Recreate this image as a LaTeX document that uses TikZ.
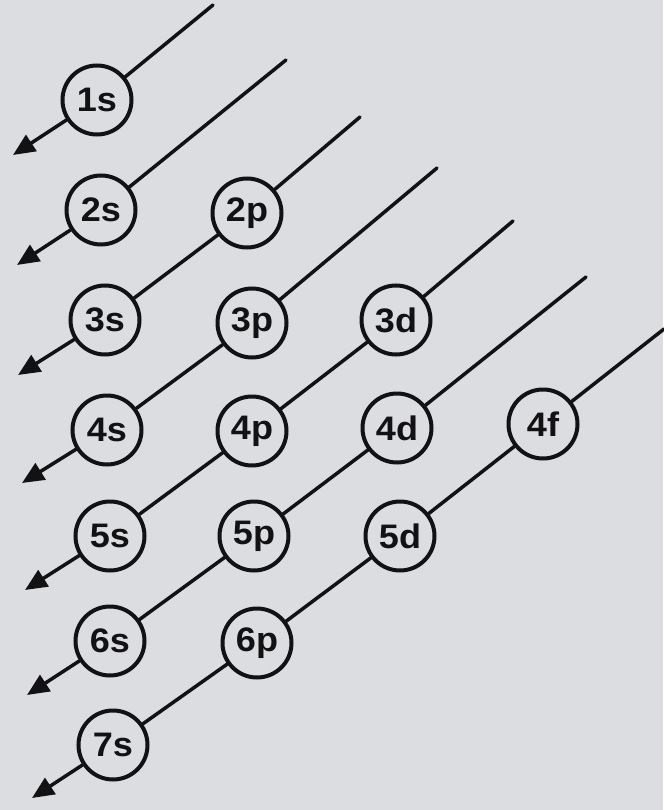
\documentclass[tikz,border=0pt]{standalone}
\usepackage{fontspec}
\setmainfont{Liberation Sans}
\newfontfamily\orbfont{Liberation Sans}[FakeStretch=1.06]
\usetikzlibrary{arrows.meta}
\definecolor{paper}{RGB}{219,221,224}
\definecolor{ink}{RGB}{18,18,20}
\begin{document}
\begin{tikzpicture}[x=1pt,y=-1pt,
  orb/.style={circle,draw=ink,fill=paper,line width=4pt,minimum size=69pt,inner sep=0pt,
              font=\orbfont\bfseries\fontsize{34}{34}\selectfont,text=ink},
  diag/.style={draw=ink,line width=3.5pt,line cap=round},
  arr/.style={diag,-{Triangle[length=22pt,width=19pt]}}]
\fill[paper] (0,0) rectangle (663,810);
\useasboundingbox (0,0) rectangle (663,810);
% orbitals
\node[orb] (1s) at (97,100) {1s};
\node[orb] (2s) at (101,210) {2s};
\node[orb] (2p) at (247,213) {2p};
\node[orb] (3s) at (105,320) {3s};
\node[orb] (3p) at (252,323) {3p};
\node[orb] (3d) at (396,320) {3d};
\node[orb] (4s) at (107,430) {4s};
\node[orb] (4p) at (252,431) {4p};
\node[orb] (4d) at (397,428) {4d};
\node[orb] (4f) at (543,424) {4f};
\node[orb] (5s) at (110,536) {5s};
\node[orb] (5p) at (254,536) {5p};
\node[orb] (5d) at (400,536) {5d};
\node[orb] (6s) at (110,641) {6s};
\node[orb] (6p) at (257,643) {6p};
\node[orb] (7s) at (113,745) {7s};
% free ends
\coordinate (t1) at (213,5);   \coordinate (e1) at (13,155);
\coordinate (t2) at (286,60);  \coordinate (e2) at (17,265);
\coordinate (t3) at (360,117); \coordinate (e3) at (18,375);
\coordinate (t4) at (437,168); \coordinate (e4) at (22,483);
\coordinate (t5) at (513,221); \coordinate (e5) at (25,590);
\coordinate (t6) at (586,277); \coordinate (e6) at (27,695);
\coordinate (t7) at (664,329); \coordinate (e7) at (32,798);
% diagonals
\draw[diag] (t1) -- (1s); \draw[arr] (1s) -- (e1);
\draw[diag] (t2) -- (2s); \draw[arr] (2s) -- (e2);
\draw[diag] (t3) -- (2p) (2p) -- (3s); \draw[arr] (3s) -- (e3);
\draw[diag] (t4) -- (3p) (3p) -- (4s); \draw[arr] (4s) -- (e4);
\draw[diag] (t5) -- (3d) (3d) -- (4p) (4p) -- (5s); \draw[arr] (5s) -- (e5);
\draw[diag] (t6) -- (4d) (4d) -- (5p) (5p) -- (6s); \draw[arr] (6s) -- (e6);
\draw[diag] (t7) -- (4f) (4f) -- (5d) (5d) -- (6p) (6p) -- (7s); \draw[arr] (7s) -- (e7);
\end{tikzpicture}
\end{document}
